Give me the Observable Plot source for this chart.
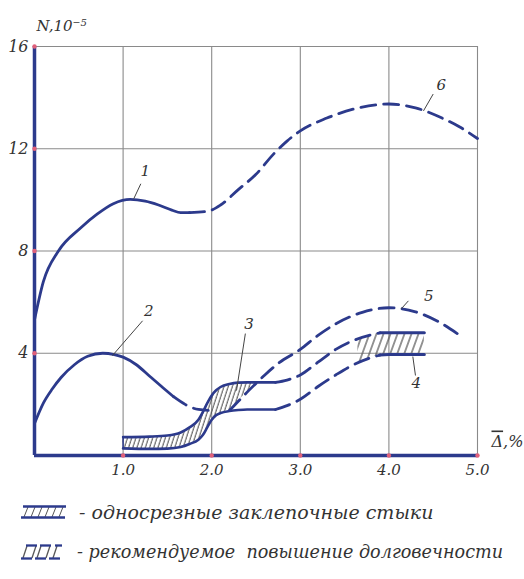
<!DOCTYPE html>
<html><head><meta charset="utf-8">
<script src="https://cdn.jsdelivr.net/npm/d3@7"></script>
<script src="https://cdn.jsdelivr.net/npm/@observablehq/plot@0.6"></script>
<style>
body{margin:0;background:#fff;width:524px;height:579px;overflow:hidden;position:relative;}
#chart{position:absolute;left:0;top:0;}
.row{position:absolute;left:0;display:flex;align-items:center;white-space:nowrap;font-family:"DejaVu Serif",serif;font-style:italic;font-size:19px;color:#333;}
.row svg{display:block;}
.row span{margin-left:12px;}
</style></head><body><div id="chart"></div>
<div class="row" style="top:501px;left:21px"><svg width="46" height="16" viewBox="0 0 46 16">
<g stroke="#555" stroke-width="1"><line x1="3" y1="13" x2="7" y2="3"/><line x1="10" y1="13" x2="14" y2="3"/><line x1="17" y1="13" x2="21" y2="3"/><line x1="24" y1="13" x2="28" y2="3"/><line x1="31" y1="13" x2="35" y2="3"/><line x1="38" y1="13" x2="42" y2="3"/></g>
<line x1="2" y1="2.5" x2="45" y2="2.5" stroke="#2c3a8c" stroke-width="2.5"/><line x1="0" y1="13.5" x2="44" y2="13.5" stroke="#2c3a8c" stroke-width="2.5"/></svg><span>- односрезные заклепочные стыки</span></div>
<div class="row" style="top:542px;left:20px;font-size:17.6px"><svg width="44" height="18" viewBox="0 0 44 18">
<g stroke="#555" stroke-width="1.3"><line x1="3" y1="15" x2="7" y2="3"/><line x1="12" y1="15" x2="16" y2="3"/><line x1="17" y1="15" x2="21" y2="3"/><line x1="26" y1="15" x2="30" y2="3"/><line x1="33" y1="15" x2="37" y2="3"/></g>
<g stroke="#2c3a8c" stroke-width="2.3"><line x1="6" y1="2.5" x2="17" y2="2.5"/><line x1="20" y1="2.5" x2="31" y2="2.5"/><line x1="35" y1="2.5" x2="42" y2="2.5"/><line x1="1" y1="15.5" x2="12" y2="15.5"/><line x1="15" y1="15.5" x2="26" y2="15.5"/><line x1="29" y1="15.5" x2="40" y2="15.5"/></g></svg><span style="margin-left:13px">- рекомендуемое&nbsp; повышение долговечности</span></div>
<script>
const BLUE = "#2c3a8c";
const xTicks = [1, 2, 3, 4, 5];
const yTicks = [4, 8, 12, 16];

// curve 1 (solid part) and its dashed continuation (6)
const curve1X = [0, 0.1, 0.27, 0.52, 0.71, 0.89, 1.08, 1.25, 1.4, 1.55, 1.65, 1.75];
const curve1Y = [5.3, 6.8, 8.0, 8.9, 9.45, 9.85, 10.02, 9.95, 9.8, 9.6, 9.5, 9.5];
const curve6X = [1.75, 1.95, 2.1, 2.3, 2.5, 2.7, 2.85, 3.0, 3.3, 3.6, 4.0, 4.3, 4.6, 4.8, 5.0];
const curve6Y = [9.5, 9.55, 9.8, 10.4, 11.0, 11.8, 12.3, 12.7, 13.2, 13.55, 13.75, 13.6, 13.2, 12.85, 12.4];

// curve 2 solid + dashed
const curve2X = [0, 0.1, 0.2, 0.3, 0.45, 0.6, 0.77, 0.9, 1.0, 1.15, 1.3, 1.45, 1.57];
const curve2Y = [1.25, 2.05, 2.6, 3.05, 3.55, 3.88, 4.0, 3.95, 3.85, 3.55, 3.1, 2.65, 2.3];
const curve2dX = [1.57, 1.7, 1.85, 2.0];
const curve2dY = [2.3, 2.0, 1.8, 1.76];

// band 3 (single-shear riveted joints)
const band3X = [1.0, 1.3, 1.5, 1.65, 1.75, 1.85, 1.9, 1.95, 2.0, 2.05, 2.1, 2.2, 2.3, 2.4, 2.5, 2.72];
const band3Upper = [0.72, 0.74, 0.78, 0.9, 1.1, 1.4, 1.7, 2.05, 2.35, 2.55, 2.68, 2.8, 2.85, 2.86, 2.86, 2.86];
const band3Lower = [0.28, 0.26, 0.27, 0.33, 0.45, 0.62, 0.8, 1.1, 1.4, 1.58, 1.66, 1.74, 1.78, 1.8, 1.8, 1.8];

// curve 5
const curve5X = [2.2, 2.3, 2.4, 2.5, 2.6, 2.75, 3.0, 3.2, 3.4, 3.7, 4.0, 4.3, 4.55, 4.78];
const curve5Y = [1.76, 2.12, 2.48, 2.82, 3.15, 3.6, 4.15, 4.7, 5.15, 5.6, 5.78, 5.62, 5.25, 4.75];

// curve 4 (upper and lower dashed)
const curve4UX = [2.72, 2.85, 3.0, 3.2, 3.4, 3.6, 3.8, 3.9];
const curve4UY = [2.86, 2.95, 3.15, 3.65, 4.15, 4.5, 4.72, 4.8];
const curve4LX = [2.72, 2.85, 3.0, 3.2, 3.4, 3.6, 3.8, 3.9];
const curve4LY = [1.8, 1.95, 2.2, 2.7, 3.15, 3.55, 3.83, 3.93];

// band 4 (recommended increase of durability)
const band4X = [3.65, 3.8, 3.9, 4.0, 4.2, 4.4];
const band4Upper = [4.5, 4.72, 4.8, 4.8, 4.8, 4.8];
const band4Lower = [3.6, 3.83, 3.93, 3.95, 3.95, 3.95];

// curve labels and leaders (data units)
const labelText = ["1", "2", "3", "4", "5", "6"];
const labelX = [1.25, 1.29, 2.42, 4.31, 4.45, 4.59];
const labelY = [11.13, 5.63, 5.12, 2.81, 6.25, 14.49];
const leadX1 = [1.20, 1.22, 2.38, 4.27, 4.22, 4.50];
const leadY1 = [10.63, 5.27, 4.77, 3.87, 6.05, 14.14];
const leadX2 = [1.12, 0.88, 2.28, 4.30, 4.14, 4.39];
const leadY2 = [10.04, 3.91, 2.54, 3.13, 5.74, 13.48];

const pts = (xs, ys) => xs.map((x, i) => ({x, y: ys[i]}));
const band3 = band3X.map((x, i) => ({x, lo: band3Lower[i], hi: band3Upper[i]}));
// hatched part of band 3: bounded on the right by curve 5
const c5 = new Map(curve5X.map((x, i) => [x, curve5Y[i]]));
const hatch3 = band3.filter(d => d.x <= 2.5).map(d => ({x: d.x, hi: d.hi, lo: d.x > 2.2 ? c5.get(d.x) : d.lo}));
const band4 = band4X.map((x, i) => ({x, lo: band4Lower[i], hi: band4Upper[i]}));
const band4Solid = band4.filter(d => d.x >= 3.9);
const labels = labelText.map((t, i) => ({t, x: labelX[i], y: labelY[i], x1: leadX1[i], y1: leadY1[i], x2: leadX2[i], y2: leadY2[i]}));
const tickDots = [...xTicks.map(x => ({x, y: 0})), ...yTicks.map(y => ({x: 0, y}))];

const defsMark = () => {
  const ns = "http://www.w3.org/2000/svg";
  const defs = document.createElementNS(ns, "defs");
  defs.innerHTML = `
   <pattern id="h3" patternUnits="userSpaceOnUse" width="4.2" height="20" patternTransform="skewX(-18)">
     <line x1="1" y1="0" x2="1" y2="20" stroke="#444" stroke-width="1"/></pattern>
   <pattern id="h4" patternUnits="userSpaceOnUse" width="7" height="30" patternTransform="skewX(-20)">
     <line x1="1" y1="0" x2="1" y2="30" stroke="#555" stroke-width="1.3"/></pattern>`;
  return defs;
};

const FONT = "'DejaVu Serif', serif";
const dash = "15,8";
const lw = 2.8;
const CURVE = "monotone-x";
const plot = Plot.plot({
  width: 524, height: 485,
  marginLeft: 34, marginRight: 47, marginTop: 46, marginBottom: 30,
  x: {domain: [0, 5]},
  y: {domain: [0, 16]},
  style: {fontFamily: FONT, fontStyle: "italic", fontSize: "15px", color: "#333", background: "#fff"},
  marks: [
    defsMark,
    Plot.gridX(xTicks, {stroke: "#8a8a8a", strokeOpacity: 1, strokeWidth: 1.1}),
    Plot.gridY(yTicks, {stroke: "#8a8a8a", strokeOpacity: 1, strokeWidth: 1.1}),
    Plot.axisX(xTicks, {tickSize: 0, tickPadding: 9, tickFormat: d3.format(".1f"), label: null, fontSize: 15}),
    Plot.axisY(yTicks, {tickSize: 0, tickPadding: 6, label: null, fontSize: 16}),
    Plot.areaY(hatch3, {x: "x", y1: "lo", y2: "hi", fill: "url(#h3)", curve: CURVE}),
    Plot.areaY(band4, {x: "x", y1: "lo", y2: "hi", fill: "url(#h4)"}),
    Plot.line(band3, {x: "x", y: "hi", stroke: BLUE, strokeWidth: 2.6, curve: CURVE}),
    Plot.line(band3, {x: "x", y: "lo", stroke: BLUE, strokeWidth: 2.6, curve: CURVE}),
    Plot.ruleX(band3.slice(0, 1), {x: "x", y1: "lo", y2: "hi", stroke: BLUE, strokeWidth: 1.5}),
    Plot.line(pts(curve1X, curve1Y), {x: "x", y: "y", stroke: BLUE, strokeWidth: lw, curve: CURVE}),
    Plot.line(pts(curve6X, curve6Y), {x: "x", y: "y", stroke: BLUE, strokeWidth: lw, curve: CURVE, strokeDasharray: dash}),
    Plot.line(pts(curve2X, curve2Y), {x: "x", y: "y", stroke: BLUE, strokeWidth: lw, curve: CURVE}),
    Plot.line(pts(curve2dX, curve2dY), {x: "x", y: "y", stroke: BLUE, strokeWidth: lw, curve: CURVE, strokeDasharray: dash}),
    Plot.line(pts(curve5X, curve5Y), {x: "x", y: "y", stroke: BLUE, strokeWidth: lw, curve: CURVE, strokeDasharray: dash}),
    Plot.line(pts(curve4UX, curve4UY), {x: "x", y: "y", stroke: BLUE, strokeWidth: lw, curve: CURVE, strokeDasharray: dash}),
    Plot.line(pts(curve4LX, curve4LY), {x: "x", y: "y", stroke: BLUE, strokeWidth: lw, curve: CURVE, strokeDasharray: dash}),
    Plot.line(band4Solid, {x: "x", y: "hi", stroke: BLUE, strokeWidth: 3}),
    Plot.line(band4Solid, {x: "x", y: "lo", stroke: BLUE, strokeWidth: 3}),
    Plot.ruleY([0], {stroke: BLUE, strokeWidth: 3.5}),
    Plot.ruleX([0], {stroke: BLUE, strokeWidth: 3.5}),
    Plot.dot(tickDots, {x: "x", y: "y", r: 2.2, fill: "#e0607a", stroke: "none"}),
    Plot.link(labels, {x1: "x1", y1: "y1", x2: "x2", y2: "y2", stroke: "#444", strokeWidth: 1}),
    Plot.text(labels, {x: "x", y: "y", text: "t", fontSize: 15, fill: "#333"}),
    Plot.text(["N,10⁻⁵"], {frameAnchor: "top-left", dx: 2, dy: -26, textAnchor: "start", fontSize: 15, fill: "#333"}),
    Plot.text(["Δ,%"], {frameAnchor: "bottom-right", dx: 14, dy: -9, textAnchor: "start", fontSize: 16, fill: "#333"})
  ]
});
document.getElementById("chart").appendChild(plot);
d3.select(plot).selectAll("text").filter(function () { return this.textContent === "Δ,%"; })
  .each(function () {
    const t = d3.select(this);
    t.text(null);
    t.append("tspan").attr("text-decoration", "overline").text("Δ");
    t.append("tspan").text(",%");
  });
</script></body></html>
